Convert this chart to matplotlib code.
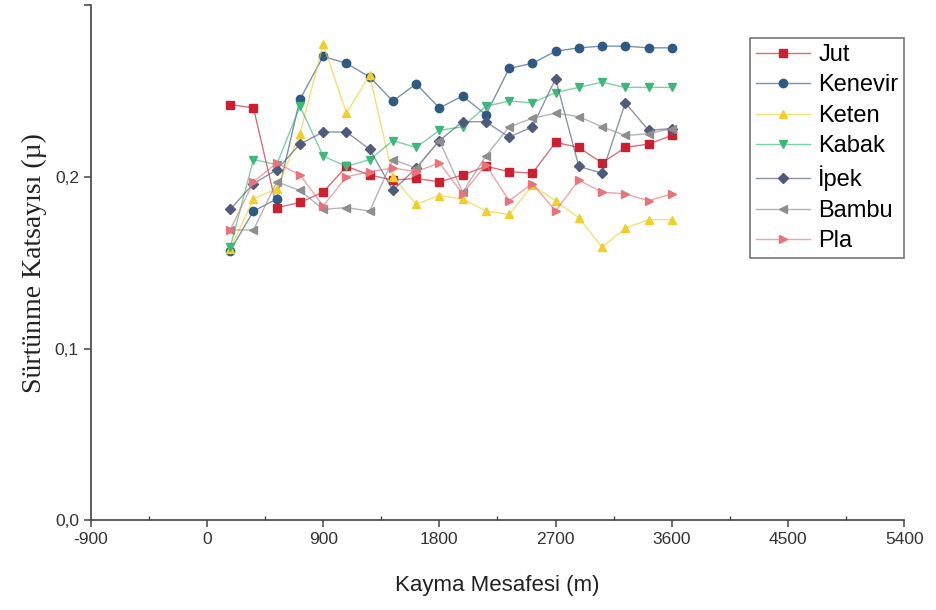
import numpy as np
import matplotlib.pyplot as plt
from matplotlib.colors import to_rgba

plt.rcParams['axes.unicode_minus'] = False

# Kayma mesafesi (m)
mesafe = [180, 360, 540, 720, 900, 1080, 1260, 1440, 1620, 1800,
          1980, 2160, 2340, 2520, 2700, 2880, 3060, 3240, 3420, 3600]

jut = [0.242, 0.240, 0.182, 0.185, 0.191, 0.206, 0.201, 0.198, 0.199, 0.197,
       0.201, 0.206, 0.203, 0.202, 0.220, 0.217, 0.208, 0.217, 0.219, 0.224]
kenevir = [0.157, 0.180, 0.187, 0.245, 0.270, 0.266, 0.258, 0.244, 0.254, 0.240,
           0.247, 0.236, 0.263, 0.266, 0.273, 0.275, 0.276, 0.276, 0.275, 0.275]
keten = [0.158, 0.187, 0.193, 0.225, 0.277, 0.237, 0.259, 0.200, 0.184, 0.189,
         0.187, 0.180, 0.178, 0.195, 0.186, 0.176, 0.159, 0.170, 0.175, 0.175]
kabak = [0.159, 0.210, 0.207, 0.241, 0.212, 0.206, 0.210, 0.221, 0.217, 0.227,
         0.229, 0.241, 0.244, 0.243, 0.249, 0.252, 0.255, 0.252, 0.252, 0.252]
ipek = [0.181, 0.196, 0.204, 0.219, 0.226, 0.226, 0.216, 0.192, 0.205, 0.221,
        0.232, 0.232, 0.223, 0.229, 0.257, 0.206, 0.202, 0.243, 0.227, 0.228]
bambu = [0.169, 0.169, 0.197, 0.192, 0.181, 0.182, 0.180, 0.210, 0.205, 0.221,
         0.191, 0.212, 0.229, 0.234, 0.237, 0.235, 0.229, 0.224, 0.225, 0.228]
pla = [0.169, 0.197, 0.208, 0.201, 0.183, 0.200, 0.203, 0.205, 0.203, 0.208,
       0.190, 0.207, 0.186, 0.196, 0.180, 0.198, 0.191, 0.190, 0.186, 0.190]

seriler = [("Jut", jut, "#cc1f2f", "s"),
           ("Kenevir", kenevir, "#2e5a84", "o"),
           ("Keten", keten, "#f0cf2a", "^"),
           ("Kabak", kabak, "#3cb878", "v"),
           ("İpek", ipek, "#4f5b7c", "D"),
           ("Bambu", bambu, "#8e8e8e", "<"),
           ("Pla", pla, "#e8737a", ">")]

fig, ax = plt.subplots(figsize=(9.36, 6.10), dpi=100)
fig.subplots_adjust(left=0.097, right=0.966, bottom=0.147, top=0.992)

for ad, y, c, m in seriler:
    ms = 5 if m == "D" else 6
    ax.plot(mesafe, y, color=to_rgba(c, 0.65), lw=1.0, marker=m, ms=ms,
            mfc=c, mec=c, label=ad)

ax.set_xlim(-900, 5400)
ax.set_ylim(0, 0.3)
ax.set_xticks(np.arange(-900, 5401, 900))
ax.set_xticks(np.arange(-450, 5400, 900), minor=True)
ax.set_yticks([0, 0.1, 0.2, 0.3])
ax.set_yticklabels(["0,0", "0,1", "0,2", ""])

for s in ["top", "right"]:
    ax.spines[s].set_visible(False)
for s in ["left", "bottom"]:
    ax.spines[s].set_color("#444444")
    ax.spines[s].set_linewidth(1.2)

ax.tick_params(axis="both", which="major", direction="out", length=5,
               width=1.1, color="#444444", labelsize=12.5, labelcolor="#333333")
ax.tick_params(axis="x", which="minor", direction="in", length=3,
               width=1.0, color="#444444")
for lbl in ax.get_xticklabels() + ax.get_yticklabels():
    lbl.set_fontfamily("Liberation Sans")

ax.set_xlabel("Kayma Mesafesi (m)", fontsize=16, family="Liberation Sans",
              color="#222222", labelpad=20)
ax.set_ylabel("Sürtünme Katsayısı (µ)", fontsize=20, family="Liberation Serif",
              color="#222222", labelpad=6)

leg = ax.legend(loc="upper right", bbox_to_anchor=(1.0, 0.936),
                prop={"family": "Liberation Sans", "size": 17},
                frameon=True, fancybox=False, edgecolor="#555555",
                handlelength=2.3, handletextpad=0.35, labelspacing=0.36,
                borderpad=0.25, borderaxespad=0)
leg.get_frame().set_linewidth(1.2)

plt.savefig("out.png", dpi=100)
